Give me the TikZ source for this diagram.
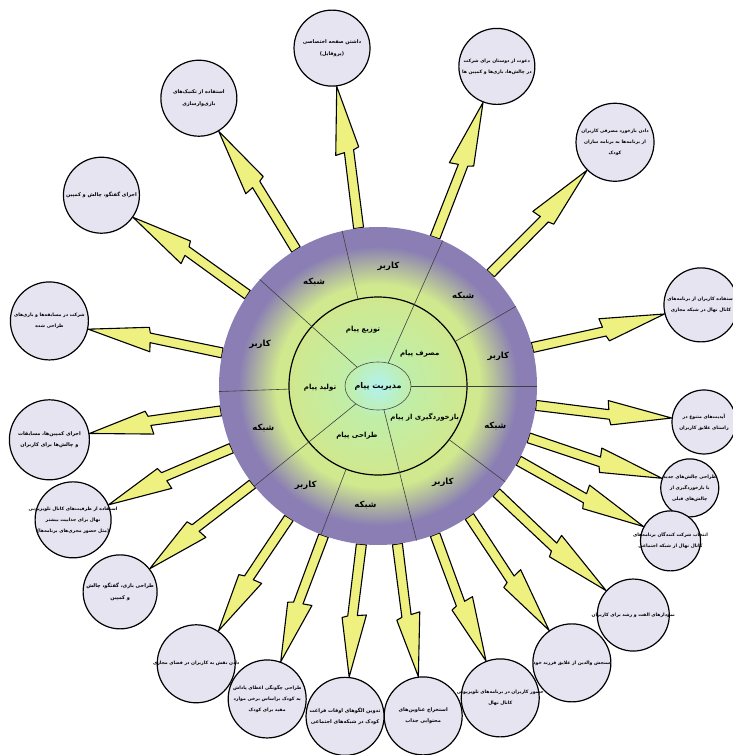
\documentclass[tikz,border=0pt]{standalone}
\usepackage{fontspec}
\newfontfamily\fafont[Script=Arabic]{DejaVu Sans}
\TeXXeTstate=1
\usetikzlibrary{shapes.geometric, calc, backgrounds}

\definecolor{hubcyan}{RGB}{178,242,240}
\definecolor{hublight}{RGB}{192,238,168}
\definecolor{hubgreen}{RGB}{208,232,142}
\definecolor{hubpurple}{RGB}{138,126,180}
\definecolor{satfill}{RGB}{230,228,240}
\definecolor{boltyellow}{RGB}{238,240,128}

\pgfdeclareradialshading{hubshade}{\pgfpoint{0bp}{0bp}}{color(0bp)=(hubcyan); color(5bp)=(hublight); color(14bp)=(hubgreen); color(16bp)=(hubgreen); color(22bp)=(hubpurple); color(50bp)=(hubpurple)}

\newcommand{\fa}[1]{\makebox[0pt]{\fafont\bfseries\beginR #1\endR}}

\begin{document}
\begin{tikzpicture}[
    x=1pt, y=1pt,
    sat/.style={circle, draw=black, line width=1.2pt, fill=satfill, inner sep=0pt, align=center, font=\fontsize{5}{11.5}\selectfont},
    small/.style={font=\fontsize{4.6}{11}\selectfont},
    seg/.style={draw=black!75, line width=0.6pt},
    lbl/.style={inner sep=0pt, font=\fontsize{7}{8}\selectfont},
    big/.style={inner sep=0pt, font=\fontsize{8.5}{9}\selectfont},
    bolt/.style={fill=boltyellow, draw=black, line width=1.1pt, line join=round,
        to path={($(\tikztostart)!5pt!90:(\tikztotarget)$) -- ($(\tikztostart)!5pt!-90:(\tikztotarget)$)
            -- ($(\tikztostart)!0.545!(\tikztotarget)!7pt!-90:(\tikztotarget)$)
            -- ($(\tikztostart)!0.56!(\tikztotarget)!12.5pt!-90:(\tikztotarget)$)
            -- (\tikztotarget)
            -- ($(\tikztostart)!0.525!(\tikztotarget)!11.5pt!90:(\tikztotarget)$)
            -- ($(\tikztostart)!0.535!(\tikztotarget)!2.5pt!90:(\tikztotarget)$) -- cycle}}
]
\useasboundingbox (-378,-369) rectangle (355,386);

\node[circle, minimum size=318pt, inner sep=0pt, shade, shading=hubshade] (hub) at (0,0) {};
\node[circle, draw=black, line width=1.2pt, minimum size=178pt, inner sep=0pt] (ring) at (0,0) {};
\node[ellipse, draw=black!70, line width=0.6pt, minimum width=66pt, minimum height=48pt, inner sep=0pt, font=\fontsize{8}{9}\selectfont] (core) at (0,0) {\fa{مدیریت پیام}};

\draw[seg] (core.0) -- (hub.0);
\draw[seg] (core.66) -- (hub.66);
\draw[seg] (core.138) -- (hub.138);
\draw[seg] (core.219) -- (hub.219);
\draw[seg] (core.284) -- (hub.284);
\draw[seg] (ring.30) -- (hub.30);
\draw[seg] (ring.103) -- (hub.103);
\draw[seg] (ring.182) -- (hub.182);
\draw[seg] (ring.249) -- (hub.249);
\draw[seg] (ring.323.5) -- (hub.323.5);

\node[lbl] (m1) at (105:58) {\fa{توزیع پیام}};
\node[lbl] (m2) at (38:53) {\fa{مصرف پیام}};
\node[lbl] (m3) at (182:58) {\fa{تولید پیام}};
\node[lbl] (m4) at (247:54) {\fa{طراحی پیام}};
\node[lbl] (m5) at (326.6:56) {\fa{بازخوردگیری از پیام}};

\node[big] (o1) at (85:120) {\fa{کاربر}};
\node[big] (o2) at (121.6:122) {\fa{شبکه}};
\node[big] (o3) at (46.6:124) {\fa{شبکه}};
\node[big] (o4) at (14:124) {\fa{کاربر}};
\node[big] (o5) at (160.7:125) {\fa{کاربر}};
\node[big] (o6) at (200:122) {\fa{شبکه}};
\node[big] (o7) at (341:124) {\fa{شبکه}};
\node[big] (o8) at (304:116) {\fa{کاربر}};
\node[big] (o9) at (234:123) {\fa{کاربر}};
\node[big] (o10) at (264:120) {\fa{شبکه}};

\node[sat, minimum size=76pt] (s1) at (97.75:341) {\fa{داشتن صفحه اختصاصی}\\\fa{(پروفایل)}};
\node[sat, minimum size=76pt] (s2) at (121.9:339) {\fa{استفاده از تکنیک‌های}\\\fa{بازی‌وارسازی}};
\node[sat, small, minimum size=76pt] (s3) at (69.6:341) {\fa{دعوت از دوستان برای شرکت}\\\fa{در چالش‌ها، بازی‌ها و کمپین ها}};
\node[sat, small, minimum size=78pt] (s4) at (45.8:340) {\fa{دادن بازخورد مصرفی کاربران}\\\fa{از برنامه‌ها به برنامه سازان}\\\fa{کودک}};
\node[sat, minimum size=76pt] (s5) at (145.4:336) {\fa{اجرای گفتگو، چالش و کمپین}};
\node[sat, small, minimum size=78pt] (s6) at (168.8:335) {\fa{شرکت در مسابقه‌ها و بازی‌های}\\\fa{طراحی شده}};
\node[sat, minimum size=80pt] (s7) at (189.3:333) {\fa{اجرای کمپین‌ها، مسابقات}\\\fa{و چالش‌ها برای کاربران}};
\node[sat, small, minimum size=74pt] (s8) at (14.1:333) {\fa{استفاده کاربران از برنامه‌های}\\\fa{کانال نهال در شبکه مجازی}};
\node[sat, small, minimum size=64pt] (s9) at (353.7:328) {\fa{آپدیت‌های متنوع در}\\\fa{راستای علایق کاربران}};
\node[sat, small, minimum size=58pt] (s10) at (341.9:328) {\fa{طراحی چالش‌های جدید}\\\fa{با بازخوردگیری از}\\\fa{چالش‌های قبلی}};
\node[sat, small, minimum size=60pt] (s11) at (332.1:331) {\fa{انتخاب شرکت کنندگان برنامه‌های}\\\fa{کانال نهال از شبکه اجتماعی}};
\node[sat, small, minimum size=72pt] (s12) at (318.1:343) {\fa{نمودارهای الفت و رشد برای کاربران}};
\node[sat, small, minimum size=78pt] (s13) at (305:338) {\fa{سنجش والدین از علایق فرزند خود}};
\node[sat, small, minimum size=78pt] (s14) at (291.4:335) {\fa{حضور کاربران در برنامه‌های تلویزیونی}\\\fa{کانال نهال}};
\node[sat, minimum size=78pt] (s15) at (277.8:333) {\fa{استخراج عناوین‌های}\\\fa{محتوایی جذاب}};
\node[sat, minimum size=78pt] (s16) at (264.3:332) {\fa{تدوین الگوهای اوقات فراغت}\\\fa{کودک در شبکه‌های اجتماعی}};
\node[sat, small, minimum size=78pt] (s17) at (250.5:332) {\fa{طراحی چگونگی اعطای پاداش}\\\fa{به کودک براساس برخی موارد}\\\fa{مفید برای کودک}};
\node[sat, small, minimum size=78pt] (s18) at (236.8:332) {\fa{دادن نقش به کاربران در فضای مجازی}};
\node[sat, minimum size=74pt] (s19) at (218.6:330) {\fa{طراحی بازی، گفتگو، چالش}\\\fa{و کمپین}};
\node[sat, small, minimum size=76pt] (s20) at (203.7:333) {\fa{استفاده از ظرفیت‌های کانال تلویزیونی}\\\fa{نهال برای جذابیت بیشتر}\\\fa{(مثل حضور مجری‌های برنامه‌ها)}};

\begin{scope}[on background layer]
\draw[bolt] (hub.97.75) to (s1.277.75);
\draw[bolt] (hub.121.9) to (s2.301.9);
\draw[bolt] (hub.69.6) to (s3.249.6);
\draw[bolt] (hub.45.8) to (s4.225.8);
\draw[bolt] (hub.145.4) to (s5.325.4);
\draw[bolt] (hub.168.8) to (s6.348.8);
\draw[bolt] (hub.189.3) to (s7.9.3);
\draw[bolt] (hub.14.1) to (s8.194.1);
\draw[bolt] (hub.353.7) to (s9.173.7);
\draw[bolt] (hub.341.9) to (s10.161.9);
\draw[bolt] (hub.332.1) to (s11.152.1);
\draw[bolt] (hub.318.1) to (s12.138.1);
\draw[bolt] (hub.305) to (s13.125);
\draw[bolt] (hub.291.4) to (s14.111.4);
\draw[bolt] (hub.277.8) to (s15.97.8);
\draw[bolt] (hub.264.3) to (s16.84.3);
\draw[bolt] (hub.250.5) to (s17.70.5);
\draw[bolt] (hub.236.8) to (s18.56.8);
\draw[bolt] (hub.218.6) to (s19.38.6);
\draw[bolt] (hub.203.7) to (s20.23.7);
\end{scope}
\end{tikzpicture}
\end{document}
